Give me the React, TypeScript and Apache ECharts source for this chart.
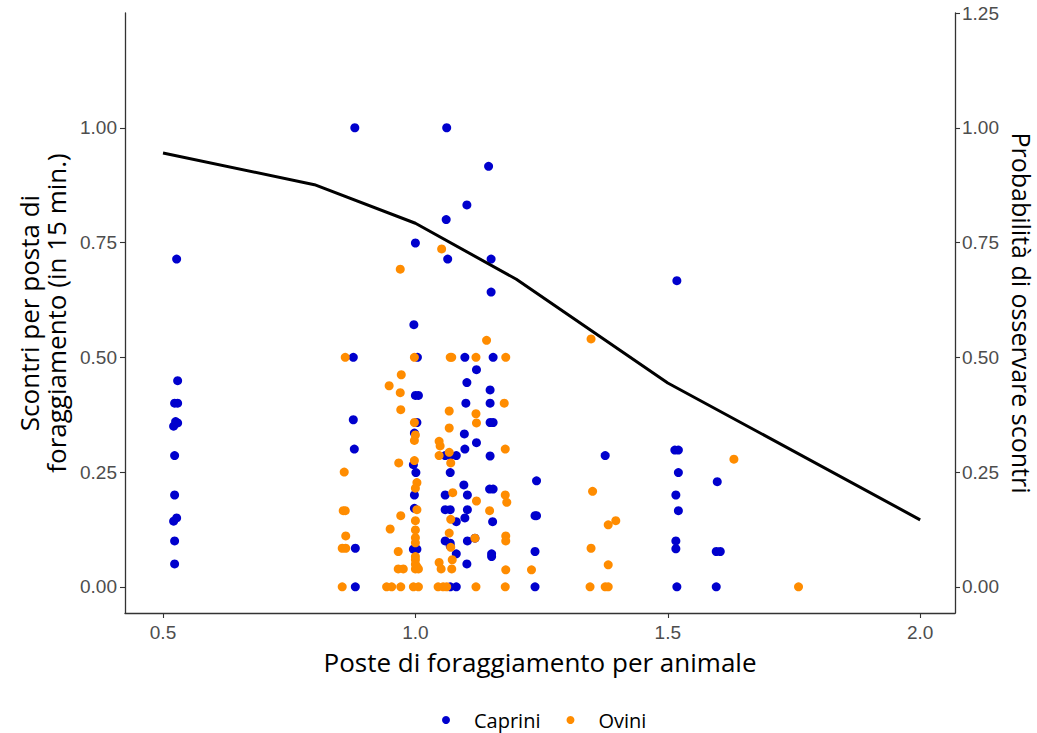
import React, { useEffect, useRef } from "react";
import * as echarts from "echarts";

const xTicks = [0.5, 1.0, 1.5, 2.0];
const leftYTicks = [0, 0.25, 0.5, 0.75, 1.0];
const rightYTicks = [0, 0.25, 0.5, 0.75, 1.0, 1.25];

const caprini: number[][] = [
  [0.527, 0.714], [0.529, 0.449], [0.523, 0.4], [0.529, 0.4], [0.525, 0.36], [0.521, 0.35],
  [0.529, 0.357], [0.523, 0.286], [0.523, 0.2], [0.521, 0.143], [0.527, 0.15], [0.523, 0.1],
  [0.523, 0.05],
  [0.88, 1.0], [0.877, 0.5], [0.877, 0.364], [0.879, 0.3], [0.881, 0.084], [0.881, 0.0],
  [1.0, 0.749], [0.997, 0.571], [1.004, 0.5], [1.0, 0.417], [1.006, 0.417], [1.003, 0.358],
  [0.998, 0.335], [0.996, 0.266], [1.001, 0.249], [0.998, 0.2], [0.998, 0.171], [0.996, 0.082],
  [1.003, 0.082],
  [1.062, 1.0], [1.061, 0.8], [1.064, 0.714], [1.059, 0.286], [1.069, 0.286], [1.081, 0.286],
  [1.069, 0.249], [1.059, 0.2], [1.059, 0.168], [1.069, 0.168], [1.081, 0.142], [1.059, 0.1],
  [1.069, 0.095], [1.069, 0.089], [1.081, 0.072], [1.069, 0.0], [1.081, 0.0],
  [1.102, 0.832], [1.098, 0.5], [1.102, 0.445], [1.1, 0.4], [1.097, 0.333], [1.098, 0.3],
  [1.096, 0.222], [1.103, 0.2], [1.103, 0.168], [1.098, 0.15], [1.103, 0.1], [1.102, 0.05],
  [1.121, 0.473], [1.121, 0.314], [1.118, 0.106],
  [1.145, 0.916], [1.15, 0.714], [1.15, 0.642], [1.154, 0.5], [1.148, 0.429], [1.148, 0.4],
  [1.148, 0.358], [1.154, 0.358], [1.148, 0.285], [1.147, 0.213], [1.154, 0.213], [1.153, 0.142],
  [1.151, 0.072], [1.151, 0.066],
  [1.24, 0.231], [1.237, 0.155], [1.24, 0.155], [1.237, 0.077], [1.237, 0.0],
  [1.376, 0.286],
  [1.518, 0.667], [1.514, 0.298], [1.521, 0.298], [1.521, 0.249], [1.516, 0.2], [1.521, 0.166],
  [1.516, 0.1], [1.516, 0.083], [1.518, 0.0],
  [1.598, 0.229], [1.596, 0.077], [1.604, 0.077], [1.596, 0.0],
];

const ovini: number[][] = [
  [0.861, 0.5], [0.859, 0.25], [0.857, 0.166], [0.861, 0.166], [0.862, 0.111], [0.855, 0.084],
  [0.862, 0.084], [0.855, 0.0],
  [0.97, 0.692], [0.972, 0.462], [0.948, 0.438], [0.97, 0.423], [0.971, 0.386], [0.967, 0.27],
  [0.971, 0.155], [0.95, 0.126], [0.966, 0.077], [0.966, 0.039], [0.976, 0.039], [0.943, 0.0],
  [0.953, 0.0], [0.971, 0.0],
  [0.998, 0.5], [0.998, 0.358], [1.0, 0.331], [0.998, 0.319], [0.998, 0.275], [1.003, 0.227],
  [1.0, 0.215], [1.003, 0.168], [1.0, 0.144], [1.0, 0.124], [1.0, 0.107], [1.0, 0.096],
  [1.0, 0.066], [1.0, 0.059], [1.0, 0.049], [1.003, 0.044], [1.0, 0.039], [1.006, 0.039],
  [0.996, 0.0], [1.006, 0.0],
  [1.052, 0.736], [1.047, 0.317], [1.049, 0.307], [1.047, 0.286], [1.047, 0.053], [1.051, 0.039],
  [1.045, 0.0], [1.055, 0.0],
  [1.069, 0.5], [1.072, 0.5], [1.067, 0.383], [1.067, 0.346], [1.067, 0.293], [1.07, 0.27],
  [1.074, 0.205], [1.07, 0.147], [1.067, 0.117], [1.07, 0.086], [1.073, 0.059], [1.072, 0.039],
  [1.062, 0.0],
  [1.12, 0.5], [1.12, 0.377], [1.121, 0.357], [1.121, 0.187], [1.118, 0.106], [1.12, 0.0],
  [1.141, 0.537], [1.147, 0.166],
  [1.179, 0.5], [1.176, 0.4], [1.178, 0.3], [1.178, 0.2], [1.181, 0.184], [1.179, 0.111],
  [1.179, 0.1], [1.179, 0.037], [1.178, 0.0],
  [1.23, 0.037],
  [1.348, 0.54], [1.351, 0.208], [1.382, 0.135], [1.397, 0.144], [1.348, 0.084], [1.382, 0.048],
  [1.346, 0.0], [1.376, 0.0], [1.382, 0.0],
  [1.631, 0.278],
  [1.759, 0.0],
];

const lineX = [0.5, 0.8, 1.0, 1.2, 1.5, 2.0];
const lineY = [0.945, 0.876, 0.792, 0.67, 0.444, 0.146];

const BLUE = "#0000CD";
const ORANGE = "#FF8C00";
const AXIS = "#333333";
const TICKTEXT = "#4D4D4D";
const TITLE_FONT = "'Open Sans', 'Noto Sans', sans-serif";
const TICK_FONT = "'Liberation Sans', Arial, sans-serif";

export default function App() {
  const ref = useRef<HTMLDivElement>(null);
  useEffect(() => {
    if (!ref.current) return;
    document.body.style.margin = "0";
    document.body.style.overflow = "hidden";
    const chart = echarts.init(ref.current, null, { renderer: "svg", width: 1037, height: 733 });
    const yCommon = {
      type: "value",
      min: -0.057,
      max: 1.25,
      splitLine: { show: false },
      axisLine: { show: true, lineStyle: { color: AXIS, width: 1.3 } },
      axisTick: { show: true, length: 5, lineStyle: { color: AXIS, width: 1.1 } },
    };
    chart.setOption({
      animation: false,
      backgroundColor: "#ffffff",
      grid: {
        left: 125,
        right: 82,
        top: 13,
        bottom: 120,
        containLabel: false,
        outerBoundsMode: "none",
      },
      legend: {
        data: ["Caprini", "Ovini"],
        left: 437,
        top: 705,
        padding: 5,
        icon: "circle",
        itemWidth: 8,
        itemHeight: 8,
        itemGap: 26,
        textStyle: {
          fontFamily: TITLE_FONT,
          fontSize: 20,
          lineHeight: 20,
          color: "#000",
          padding: [0, 0, 0, 19],
        },
      },
      xAxis: {
        type: "value",
        min: 0.4247,
        max: 2.069,
        splitLine: { show: false },
        axisLine: { show: true, onZero: false, lineStyle: { color: AXIS, width: 1.3 } },
        axisTick: { show: true, length: 5, customValues: xTicks, lineStyle: { color: AXIS, width: 1.1 } },
        axisLabel: {
          customValues: xTicks,
          formatter: (v: number) => v.toFixed(1),
          color: TICKTEXT,
          fontFamily: TICK_FONT,
          fontSize: 19,
          margin: 10,
        },
        name: "Poste di foraggiamento per animale",
        nameLocation: "middle",
        nameGap: 36,
        nameTextStyle: { fontFamily: TITLE_FONT, fontSize: 26, color: "#000" },
      },
      yAxis: [
        {
          ...yCommon,
          position: "left",
          axisTick: { ...yCommon.axisTick, customValues: leftYTicks },
          axisLabel: {
            customValues: leftYTicks,
            formatter: (v: number) => v.toFixed(2),
            color: TICKTEXT,
            fontFamily: TICK_FONT,
            fontSize: 19,
            margin: 8,
          },
          name: "Scontri per posta di\nforaggiamento (in 15 min.)",
          nameLocation: "middle",
          nameGap: 55,
          nameTextStyle: { fontFamily: TITLE_FONT, fontSize: 26, color: "#000", lineHeight: 27 },
        },
        {
          ...yCommon,
          position: "right",
          axisTick: { ...yCommon.axisTick, customValues: rightYTicks },
          axisLabel: {
            customValues: rightYTicks,
            formatter: (v: number) => v.toFixed(2),
            color: TICKTEXT,
            fontFamily: TICK_FONT,
            fontSize: 19,
            margin: 7,
          },
          name: "Probabilità di osservare scontri",
          nameLocation: "middle",
          nameRotate: -90,
          nameGap: 47,
          nameTextStyle: { fontFamily: TITLE_FONT, fontSize: 25, lineHeight: 24, color: "#000" },
        },
      ],
      series: [
        {
          name: "Caprini",
          type: "scatter",
          data: caprini,
          symbol: "circle",
          symbolSize: 9,
          itemStyle: { color: BLUE, opacity: 1 },
          yAxisIndex: 0,
        },
        {
          name: "Ovini",
          type: "scatter",
          data: ovini,
          symbol: "circle",
          symbolSize: 9,
          itemStyle: { color: ORANGE, opacity: 1 },
          yAxisIndex: 0,
        },
        {
          name: "Probabilità",
          type: "line",
          data: lineX.map((x, i) => [x, lineY[i]]),
          yAxisIndex: 1,
          showSymbol: false,
          symbol: "none",
          lineStyle: { color: "#000", width: 3 },
          z: 5,
        },
      ],
    });
    return () => chart.dispose();
  }, []);
  return <div ref={ref} style={{ width: 1037, height: 733, background: "#fff" }} />;
}
